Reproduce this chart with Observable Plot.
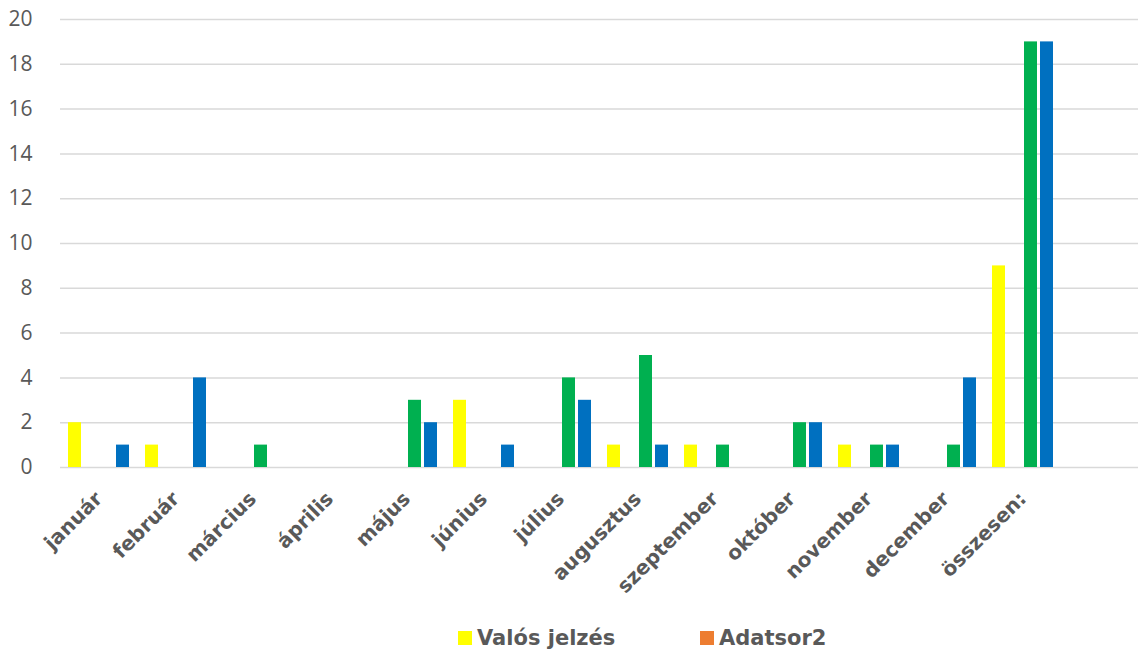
<!DOCTYPE html>
<html>
<head>
<meta charset="utf-8">
<script src="https://cdn.jsdelivr.net/npm/d3@7"></script>
<script src="https://cdn.jsdelivr.net/npm/@observablehq/plot@0.6"></script>
<style>
  html, body { margin: 0; padding: 0; background: #fff; }
  #wrap { position: relative; width: 1138px; height: 654px; }
  #legend { position: absolute; top: 624px; left: 0; width: 1138px; height: 28px;
            font-family: "DejaVu Sans", Verdana, sans-serif; font-weight: bold; font-size: 21px; color: #595959; }
  .item { position: absolute; top: 0; display: flex; align-items: center; height: 28px; }
  .sw { width: 14px; height: 14px; margin-right: 5px; }
</style>
</head>
<body>
<div id="wrap">
  <div id="chart"></div>
  <div id="legend"></div>
</div>
<script>
const months = ["január", "február", "március", "április", "május", "június", "július",
  "augusztus", "szeptember", "október", "november", "december", "összesen:", ""];
const seriesNames = ["Valós jelzés", "Adatsor2", "Adatsor3", "Adatsor4"];
const seriesColors = ["#FFFF00", "#ED7D31", "#00B050", "#0070C0"];
const valosJelzes = [2, 1, 0, 0, 0, 3, 0, 1, 1, 0, 1, 0, 9];
const adatsor2    = [0, 0, 0, 0, 0, 0, 0, 0, 0, 0, 0, 0, 0];
const adatsor3    = [0, 0, 1, 0, 3, 0, 4, 5, 1, 2, 1, 1, 19];
const adatsor4    = [1, 4, 0, 0, 2, 1, 3, 1, 0, 2, 1, 4, 19];
const yTicks = [0, 2, 4, 6, 8, 10, 12, 14, 16, 18, 20];
const legendNames = ["Valós jelzés", "Adatsor2"];

const seriesValues = [valosJelzes, adatsor2, adatsor3, adatsor4];
const rows = [];
seriesValues.forEach((vals, s) => {
  vals.forEach((v, i) => rows.push({month: months[i], series: seriesNames[s], value: v}));
});
const gridRows = [];
months.forEach(m => yTicks.forEach(t => gridRows.push({month: m, tick: t})));

const H = 612;
const chart = Plot.plot({
  width: 1138,
  height: H,
  marginLeft: 55,
  marginRight: -4,
  marginTop: 19,
  marginBottom: H - 467,
  fx: {domain: months, paddingInner: 0, paddingOuter: 0},
  x: {domain: seriesNames, paddingInner: 0.2, paddingOuter: 0.475, axis: null},
  y: {domain: [0, 20]},
  color: {domain: seriesNames, range: seriesColors},
  marks: [
    Plot.ruleY(gridRows, {fx: "month", y: "tick", stroke: "#d9d9d9", strokeWidth: 1.5}),
    Plot.barY(rows, {fx: "month", x: "series", y: "value", fill: "series"}),
    Plot.axisY({ticks: yTicks, tickSize: 0, tickPadding: 28, fontSize: 21,
      fontFamily: "Open Sans", color: "#595959", label: null}),
    Plot.axisFx({anchor: "bottom", tickRotate: -45, tickSize: 0, tickPadding: 28, fontSize: 20,
      fontWeight: "bold", fontFamily: "DejaVu Sans", color: "#595959", label: null})
  ]
});
document.getElementById("chart").appendChild(chart);

const legend = document.getElementById("legend");
const lefts = [458, 700];
legendNames.forEach((name, i) => {
  const it = document.createElement("div");
  it.className = "item";
  it.style.left = lefts[i] + "px";
  const sw = document.createElement("span");
  sw.className = "sw";
  sw.style.background = seriesColors[seriesNames.indexOf(name)];
  const t = document.createElement("span");
  t.textContent = name;
  it.appendChild(sw); it.appendChild(t);
  legend.appendChild(it);
});
</script>
</body>
</html>
